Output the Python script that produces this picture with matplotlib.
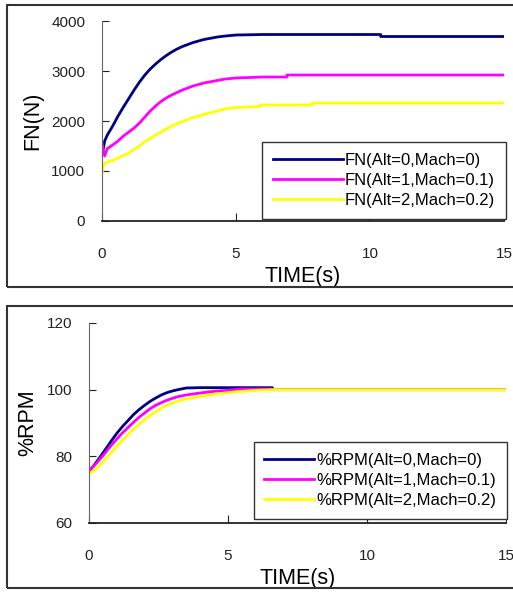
import numpy as np
import matplotlib.pyplot as plt
from matplotlib.patches import Rectangle

plt.rcParams['font.family'] = ['Liberation Sans', 'DejaVu Sans']

# ---- dados: empuxo FN (N) ----
t_fn0 = [0, 0.05, 0.1, 0.2, 0.4, 0.6, 0.8, 1.0, 1.2, 1.4, 1.6, 1.8, 2.0, 2.2, 2.4, 2.6, 2.8,
         3.0, 3.2, 3.4, 3.6, 3.8, 4.0, 4.3, 4.6, 5.0, 6.0, 8.0, 10.4, 10.4, 15]
fn0 = [1350, 1450, 1600, 1720, 1900, 2100, 2280, 2450, 2620, 2780, 2920, 3040, 3140, 3230, 3310,
       3380, 3440, 3490, 3530, 3570, 3600, 3630, 3650, 3680, 3700, 3720, 3730, 3730, 3730,
       3690, 3690]

t_fn1 = [0, 0.1, 0.2, 0.4, 0.6, 0.8, 1.0, 1.2, 1.4, 1.6, 1.8, 2.0, 2.2, 2.4, 2.6, 2.8,
         3.0, 3.2, 3.4, 3.6, 3.8, 4.0, 4.3, 4.6, 5.0, 6.0, 6.9, 6.9, 15]
fn1 = [1550, 1300, 1450, 1520, 1600, 1700, 1780, 1860, 1960, 2080, 2200, 2300, 2390, 2460,
       2520, 2570, 2620, 2660, 2700, 2730, 2760, 2780, 2810, 2840, 2860, 2880, 2880, 2920, 2920]

t_fn2 = [0, 0.05, 0.1, 0.2, 0.4, 0.6, 0.8, 1.0, 1.2, 1.4, 1.6, 1.8, 2.0, 2.2, 2.4, 2.6, 2.8,
         3.0, 3.2, 3.4, 3.6, 3.8, 4.0, 4.3, 4.6, 5.0, 5.9, 5.9, 7.85, 7.85, 15]
fn2 = [950, 1100, 1150, 1180, 1210, 1260, 1310, 1360, 1430, 1500, 1590, 1650, 1720, 1780,
       1840, 1900, 1950, 1990, 2030, 2070, 2100, 2130, 2160, 2200, 2240, 2270, 2290, 2320,
       2320, 2360, 2360]

# ---- dados: rotacao %RPM ----
t_rpm0 = [0, 0.2, 0.4, 0.6, 0.8, 1.0, 1.2, 1.4, 1.6, 1.8, 2.0, 2.2, 2.4, 2.6, 2.8, 3.0,
          3.2, 3.5, 4.0, 6.6, 6.6, 15]
rpm0 = [75.5, 77.5, 79.8, 82.2, 84.6, 86.9, 88.9, 90.7, 92.5, 94.0, 95.3, 96.5, 97.5, 98.4,
        99.1, 99.6, 100.0, 100.5, 100.6, 100.6, 100.0, 100.0]

t_rpm1 = [0, 0.2, 0.4, 0.6, 0.8, 1.0, 1.2, 1.4, 1.6, 1.8, 2.0, 2.2, 2.4, 2.6, 2.8, 3.0,
          3.2, 3.5, 4.0, 4.5, 5.0, 5.5, 6.6, 6.6, 15]
rpm1 = [75.8, 77.3, 79.2, 81.2, 83.3, 85.2, 87.0, 88.6, 90.2, 91.7, 93.0, 94.3, 95.3, 96.1,
        96.8, 97.4, 97.9, 98.4, 99.0, 99.5, 99.8, 100.2, 100.2, 100.0, 100.0]

t_rpm2 = [0, 0.2, 0.4, 0.6, 0.8, 1.0, 1.2, 1.4, 1.6, 1.8, 2.0, 2.2, 2.4, 2.6, 2.8, 3.0,
          3.2, 3.5, 4.0, 4.5, 5.0, 5.5, 6.0, 6.7, 15]
rpm2 = [74.8, 75.8, 77.4, 79.2, 81.1, 83.0, 84.8, 86.5, 88.1, 89.6, 91.0, 92.3, 93.4, 94.4,
        95.3, 96.0, 96.6, 97.2, 98.0, 98.6, 99.1, 99.5, 99.8, 100.0, 100.0]

cores = ['#000080', '#FF00FF', '#FFFF00']
cond = ['(Alt=0,Mach=0)', '(Alt=1,Mach=0.1)', '(Alt=2,Mach=0.2)']

fig = plt.figure(figsize=(5.13, 5.92), dpi=100)

# molduras externas
for y0, y1 in [(5, 287), (306, 588)]:
	fig.patches.append(Rectangle((7/513, 1 - y1/592), 1.0, (y1 - y0)/592,
	                             transform=fig.transFigure, fill=False,
	                             edgecolor='#333333', linewidth=1.5))

def estilo(ax, xlabel, ylabel):
	ax.spines['top'].set_visible(False)
	ax.spines['right'].set_visible(False)
	ax.spines['left'].set_color('#666666')
	ax.spines['bottom'].set_color('#222222')
	ax.spines['bottom'].set_linewidth(1.3)
	ax.set_xlim(0, 15)
	ax.set_xticks([0, 5, 10, 15])
	ax.tick_params(axis='x', direction='in', length=6, pad=19, labelsize=11, colors='#222222')
	ax.tick_params(axis='y', direction='in', length=5, pad=12, labelsize=11, colors='#222222')
	ax.set_xlabel(xlabel, fontsize=15.5, labelpad=3)
	ax.set_ylabel(ylabel, fontsize=15.5, labelpad=6)

def legenda(ax, anchor, hl):
	leg = ax.legend(loc='lower right', bbox_to_anchor=anchor, borderaxespad=0,
	                fontsize=12, handlelength=hl, handletextpad=0.1, labelspacing=0.3,
	                borderpad=0.65, fancybox=False, framealpha=1, edgecolor='#333333')
	leg.get_frame().set_linewidth(1.0)

# Grafico do empuxo
ax1 = fig.add_axes([0.1988, 0.6267, 0.7836, 0.3378])
for t, y, c, l in zip([t_fn0, t_fn1, t_fn2], [fn0, fn1, fn2], cores, cond):
	ax1.plot(t, y, color=c, linewidth=2.0, label='FN' + l)
ax1.set_ylim(0, 4000)
ax1.set_yticks([0, 1000, 2000, 3000, 4000])
estilo(ax1, 'TIME(s)', 'FN(N)')
legenda(ax1, (1.005, 0.01), 4.2)

# Grafico da rotacao
ax2 = fig.add_axes([0.1735, 0.1166, 0.8129, 0.3378])
for t, y, c, l in zip([t_rpm0, t_rpm1, t_rpm2], [rpm0, rpm1, rpm2], cores, cond):
	ax2.plot(t, y, color=c, linewidth=2.0, label='%RPM' + l)
ax2.set_ylim(60, 120)
ax2.set_yticks([60, 80, 100, 120])
estilo(ax2, 'TIME(s)', '%RPM')
legenda(ax2, (1.002, 0.02), 3.0)

plt.savefig('out.png', dpi=100)
